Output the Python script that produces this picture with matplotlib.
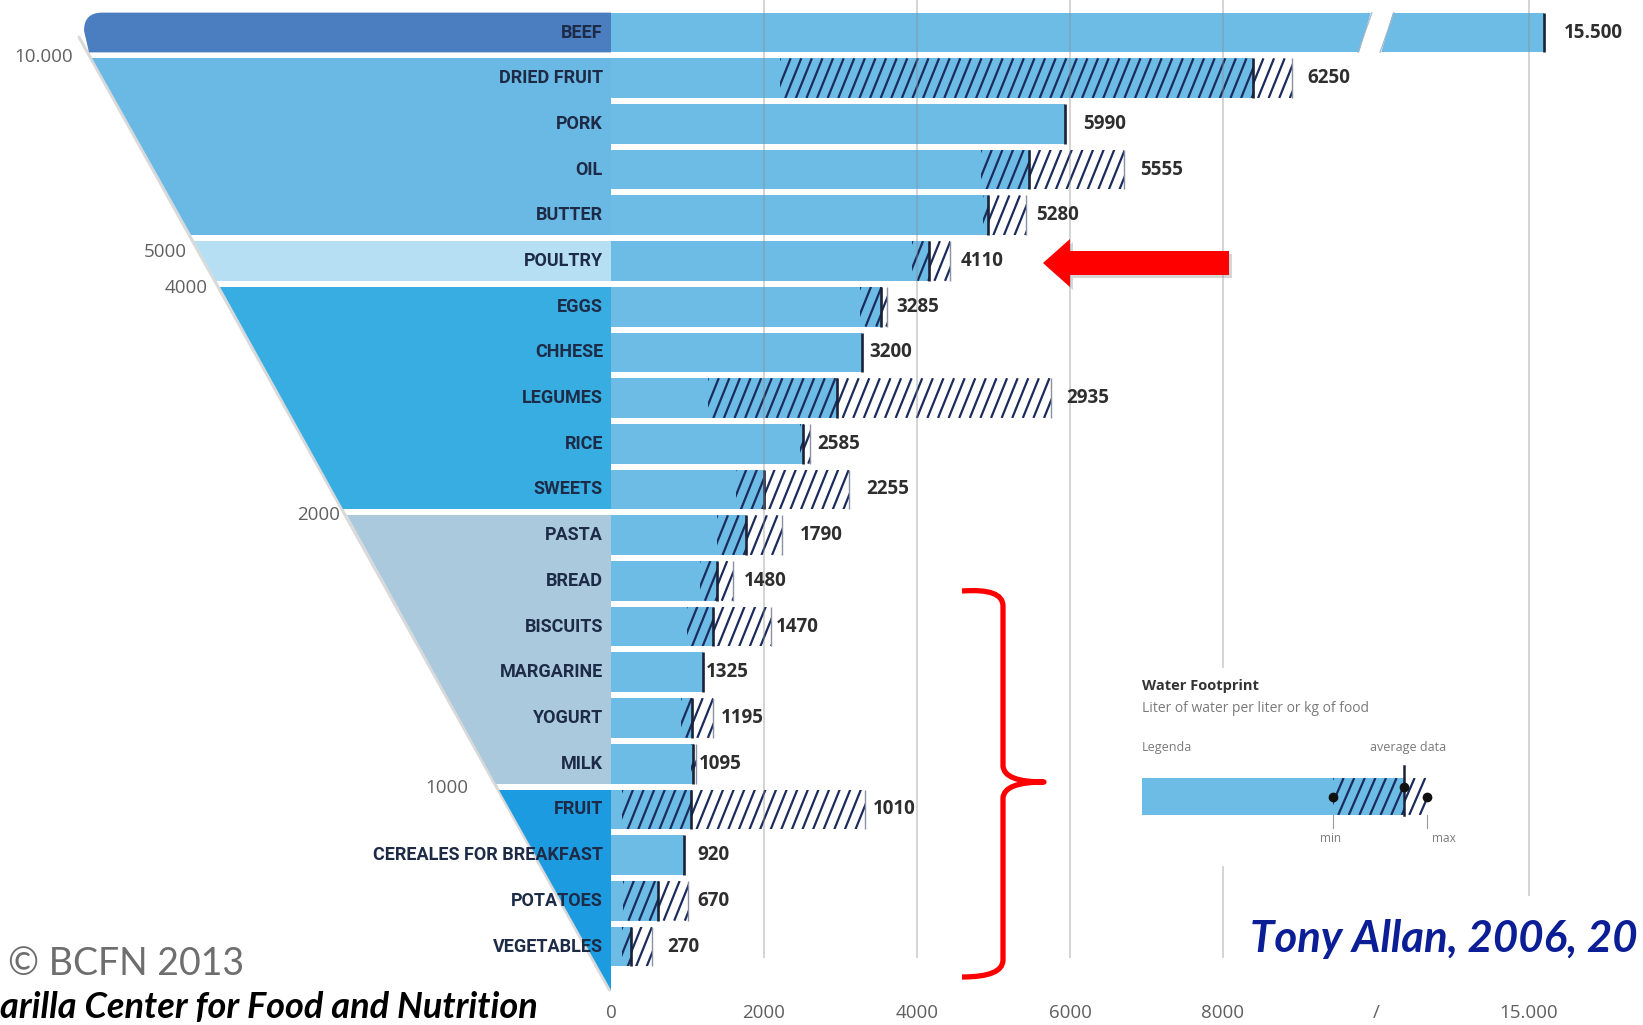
import numpy as np
import matplotlib
matplotlib.use("Agg")
import matplotlib.pyplot as plt
import matplotlib.font_manager as fm
from matplotlib.patches import Rectangle, Polygon, FancyArrow, PathPatch
from matplotlib.path import Path
from matplotlib.collections import LineCollection

# ---------------- data ----------------
categories = ["BEEF", "DRIED FRUIT", "PORK", "OIL", "BUTTER", "POULTRY", "EGGS",
              "CHHESE", "LEGUMES", "RICE", "SWEETS", "PASTA", "BREAD", "BISCUITS",
              "MARGARINE", "YOGURT", "MILK", "FRUIT", "CEREALES FOR BREAKFAST",
              "POTATOES", "VEGETABLES"]
value_labels = ["15.500", "6250", "5990", "5555", "5280", "4110", "3285", "3200",
                "2935", "2585", "2255", "1790", "1480", "1470", "1325", "1195",
                "1095", "1010", "920", "670", "270"]
v_min = [15500, 2210, 5930, 4840, 4860, 3940, 3260, 3280, 1270, 2470, 1630,
         1390, 1160, 990, 1200, 915, 1040, 150, 950, 160, 150]
v_avg = [15500, 8390, 5930, 5470, 4930, 4160, 3530, 3280, 2960, 2510, 2000,
         1760, 1380, 1330, 1200, 1060, 1070, 1050, 950, 620, 260]
v_max = [15500, 8900, 5930, 6700, 5420, 4430, 3610, 3280, 5750, 2600, 3110,
         2230, 1600, 2090, 1200, 1330, 1110, 3320, 950, 1005, 540]

group_last_row = [0, 4, 5, 10, 16, 20]
funnel_marks = ["10.000", "5000", "4000", "2000", "1000"]
tick_values = [0, 2000, 4000, 6000, 8000, 10000, 15000]
tick_labels = ["0", "2000", "4000", "6000", "8000", "/", "15.000"]
grid_values = [2000, 4000, 6000, 8000, 15000]

# ---------------- style / layout ----------------
W, H = 1643, 1025
ROW0, ROWH = 32.5, 45.7          # pixel centre of first row, row pitch
AX_BOTTOM_PX = 1000
X0PX = 611                       # pixel where value 0 sits
PXU = 0.0765                     # pixels per unit (linear part)
BRK, CMP = 10000, 0.4            # axis break and compression beyond it
BAR_H = 0.87
BAR_BLUE = "#6cbce6"
HATCH_C = "#1b2c5c"
AVG_C = "#1a2238"
group_colors = ["#4b7ec0", "#6ab9e4", "#b6dff3", "#38ade2", "#aac9dc", "#1c9be0"]
LABEL_PAD_PX = [20, 16, 18, 17, 10, 11, 9, 7, 15, 7, 17, 18, 10, 5, 3, 8, 3, 8,
                14, 9, 15]
funnel_mark_px = [(73, 56.6), (186.5, 251.5), (207.5, 288), (340.5, 515.5), (468, 788)]
HATCH_SP_PX, HATCH_SH_PX = 10.6, 16

names = {f.name for f in fm.fontManager.ttflist}
def pick(*cands):
    for c in cands:
        if c in names:
            return c
    return "DejaVu Sans"
NARROW = pick("Liberation Sans Narrow", "Roboto", "DejaVu Sans")
SANS = pick("Open Sans", "Lato", "DejaVu Sans")
ITAL = pick("Lato", "Open Sans", "DejaVu Sans")
plt.rcParams["font.family"] = [SANS, "DejaVu Sans"]


def r_of(ypx):
    return (ypx - ROW0) / ROWH


YLIM = (r_of(AX_BOTTOM_PX), r_of(0))


def hatched(axis, x0, x1, yc, h, face, spacing, shift, lw=1.6, z=3):
    rect = Rectangle((x0, yc - h / 2), x1 - x0, h, facecolor=face,
                     edgecolor="none", zorder=z)
    axis.add_patch(rect)
    starts = np.arange(x0 - shift, x1 + spacing, spacing)
    segs = [[(s, yc + h / 2), (s + shift, yc - h / 2)] for s in starts]
    lc = LineCollection(segs, colors=HATCH_C, linewidths=lw, zorder=z + 0.1)
    axis.add_collection(lc, autolim=False)
    lc.set_clip_path(rect)


fig = plt.figure(figsize=(W / 100, H / 100), dpi=100)
fig.patch.set_facecolor("white")

# ---------------- bar axes ----------------
ax = fig.add_axes([X0PX / W, (H - AX_BOTTOM_PX) / H, (W - X0PX) / W, AX_BOTTOM_PX / H])


def fwd(x):
    x = np.asarray(x, float)
    return np.where(x <= BRK, x, BRK + (x - BRK) * CMP)


def inv(y):
    y = np.asarray(y, float)
    return np.where(y <= BRK, y, BRK + (y - BRK) / CMP)


ax.set_xscale("function", functions=(fwd, inv))
ax.set_xlim(0, float(inv((W - X0PX) / PXU)))
ax.set_ylim(*YLIM)
for s in ax.spines.values():
    s.set_visible(False)
ax.set_yticks([])
ax.set_xticks(tick_values, tick_labels)
ax.tick_params(axis="x", length=0, pad=3, labelsize=13.5, labelcolor="#5f5f5f")
ax.patch.set_alpha(0)

sp = HATCH_SP_PX / PXU
sh = HATCH_SH_PX / PXU
n = len(categories)
for i in range(n):
    lo, av, hi = v_min[i], v_avg[i], v_max[i]
    ax.barh(i, lo, height=BAR_H, left=0, color=BAR_BLUE, zorder=2)
    if av > lo:
        hatched(ax, lo, av, i, BAR_H, BAR_BLUE, sp, sh)
    if hi > av:
        hatched(ax, av, hi, i, BAR_H, "white", sp, sh)
        ax.vlines(hi, i - BAR_H / 2, i + BAR_H / 2, color="#8a92a4", lw=1.0, zorder=4)
    ax.vlines(av, i - BAR_H / 2, i + BAR_H / 2, color=AVG_C, lw=1.9, zorder=4)
    ax.annotate(value_labels[i], xy=(hi, i), xytext=(LABEL_PAD_PX[i] * 0.72, 0),
                textcoords="offset points", ha="left", va="center",
                fontsize=13.5, fontweight="bold", color="#2e2e2e", zorder=6)

grid_bottom = [958, 958, 958, 958, 896]
for gv, gb in zip(grid_values, grid_bottom):
    ax.vlines(gv, r_of(gb), YLIM[1], color="#8c8c8c", alpha=0.4, lw=1.3, zorder=5)

# ---------------- funnel axes ----------------
axf = fig.add_axes([0, (H - AX_BOTTOM_PX) / H, X0PX / W, AX_BOTTOM_PX / H])
axf.set_xlim(0, X0PX)
axf.set_ylim(*YLIM)
axf.axis("off")

EDGE_X0, EDGE_R0, TIP_R = 89.0, BAR_H / 2, 20.95
SLOPE = (X0PX - EDGE_X0) / (TIP_R - EDGE_R0)


def edge(r):
    return EDGE_X0 + (r - EDGE_R0) * SLOPE


axf.plot([edge(0.1) - 1.5, X0PX - 1.5], [0.1, TIP_R], color="#d9d9d9", lw=2.2,
         solid_capstyle="round", zorder=1)
starts = [0] + [e + 1 for e in group_last_row[:-1]]
for g, (a, b) in enumerate(zip(starts, group_last_row)):
    top = a - BAR_H / 2
    bot = b + BAR_H / 2
    col = group_colors[g]
    if g == 0:
        rad = 18 / ROWH
        verts = [(X0PX, top), (84 + 18, top), (84, top), (84, top + rad),
                 (edge(bot), bot), (X0PX, bot), (X0PX, top)]
        codes = [Path.MOVETO, Path.LINETO, Path.CURVE3, Path.CURVE3,
                 Path.LINETO, Path.LINETO, Path.CLOSEPOLY]
        axf.add_patch(PathPatch(Path(verts, codes), facecolor=col, edgecolor="none", zorder=2))
    elif g == len(starts) - 1:
        axf.add_patch(Polygon([(edge(top), top), (X0PX, top), (X0PX, TIP_R)],
                              closed=True, facecolor=col, edgecolor="none", zorder=2))
    else:
        axf.add_patch(Polygon([(edge(top), top), (X0PX, top), (X0PX, bot), (edge(bot), bot)],
                              closed=True, facecolor=col, edgecolor="none", zorder=2))

for i, cat in enumerate(categories):
    axf.text(603, i, cat, ha="right", va="center", fontfamily=NARROW,
             fontweight="bold", fontsize=13, color="#1d2b47", zorder=5)

for txt, (px, py) in zip(funnel_marks, funnel_mark_px):
    axf.text(px, r_of(py), txt, ha="right", va="center", fontsize=13.5,
             color="#606060", zorder=5)

# ---------------- overlay (annotations) ----------------
ov = fig.add_axes([0, 0, 1, 1], zorder=10)
ov.set_xlim(0, W)
ov.set_ylim(H, 0)
ov.axis("off")
ov.patch.set_alpha(0)

# axis break on the beef bar
xb = ax.transData.transform((BRK, 0))[0]
btop, bbot = ROW0 - BAR_H / 2 * ROWH - 4, ROW0 + BAR_H / 2 * ROWH + 4
brk = [(xb - 18, bbot), (xb + 4, bbot), (xb + 18, btop), (xb - 4, btop)]
ov.add_patch(Polygon(brk, closed=True, facecolor="white", edgecolor="none", zorder=1))
ov.plot([xb - 18, xb - 4], [bbot - 4, btop + 4], color="#a8b4c0", lw=0.8, zorder=2)
ov.plot([xb + 4, xb + 18], [bbot - 4, btop + 4], color="#a8b4c0", lw=0.8, zorder=2)

# red arrow
ov.add_patch(FancyArrow(1232, 266, -186, 0, width=24, head_width=48, head_length=27,
                        length_includes_head=True, color="#8a8a8a", alpha=0.35, lw=0))
ov.add_patch(FancyArrow(1229, 263, -186, 0, width=24, head_width=48, head_length=27,
                        length_includes_head=True, color="#ff0000", lw=0))

# red brace
bv = [(962, 591), (1003, 588), (1003, 606), (1003, 766), (1004, 782), (1044, 782),
      (1004, 782), (1003, 798), (1003, 960), (1003, 977), (962, 977)]
bc = [Path.MOVETO, Path.CURVE3, Path.CURVE3, Path.LINETO, Path.CURVE3, Path.CURVE3,
      Path.CURVE3, Path.CURVE3, Path.LINETO, Path.CURVE3, Path.CURVE3]
ov.add_patch(PathPatch(Path(bv, bc), facecolor="none", edgecolor="#ff0000", lw=3.8,
                       capstyle="butt", joinstyle="round"))

# legend block
ov.add_patch(Rectangle((1128, 668), 327, 198, facecolor="white", edgecolor="none", zorder=0))
ov.text(1142, 686, "Water Footprint", fontsize=10.5, fontweight="bold", color="#333333",
        va="center", ha="left")
ov.text(1142, 709, "Liter of water per liter or kg of food", fontsize=10, color="#7a7a7a",
        va="center", ha="left")
ov.text(1142, 748, "Legenda", fontsize=9, color="#7a7a7a", va="center", ha="left")
ov.text(1446, 748, "average data", fontsize=9, color="#7a7a7a", va="center", ha="right")
LX0, LMIN, LAVG, LMAX, LYC, LH = 1142, 1333, 1404, 1427, 796.5, 37
ov.add_patch(Rectangle((LX0, LYC - LH / 2), LMIN - LX0, LH, facecolor=BAR_BLUE,
                       edgecolor="none", zorder=2))
hatched(ov, LMIN, LAVG, LYC, LH, BAR_BLUE, HATCH_SP_PX, HATCH_SH_PX, z=2)
hatched(ov, LAVG, LMAX, LYC, LH, "white", HATCH_SP_PX, HATCH_SH_PX, z=2)
ov.plot([LAVG, LAVG], [766, LYC + LH / 2], color=AVG_C, lw=1.8, zorder=4)
ov.plot([LMIN, LMIN], [LYC + LH / 2, 828], color="#9a9a9a", lw=0.8, zorder=4)
ov.plot([LMAX, LMAX], [LYC + LH / 2, 828], color="#9a9a9a", lw=0.8, zorder=4)
ov.plot([LMIN, LMAX], [797, 797], "o", ms=6, color="#111111", zorder=5)
ov.plot([LAVG], [787], "o", ms=6, color="#111111", zorder=5)
ov.text(LMIN - 2, 838, "min", fontsize=8.5, color="#7a7a7a", ha="center", va="center")
ov.text(LMAX + 17, 838, "max", fontsize=8.5, color="#7a7a7a", ha="center", va="center")

# credits
ov.text(1250, 939, "Tony Allan, 2006, 20", fontfamily=ITAL, fontstyle="italic",
        fontweight="bold", fontsize=31.5, color="#0c1e96", ha="left", va="center")
ov.text(8, 964, "© BCFN 2013", fontsize=27, color="#6e6e6e", ha="left", va="center",
        fontfamily=ITAL)
ov.text(0, 1008, "arilla Center for Food and Nutrition", fontfamily=ITAL,
        fontstyle="italic", fontweight="bold", fontsize=26, color="#000000",
        ha="left", va="center")

fig.savefig("out.png", dpi=100, facecolor="white")
